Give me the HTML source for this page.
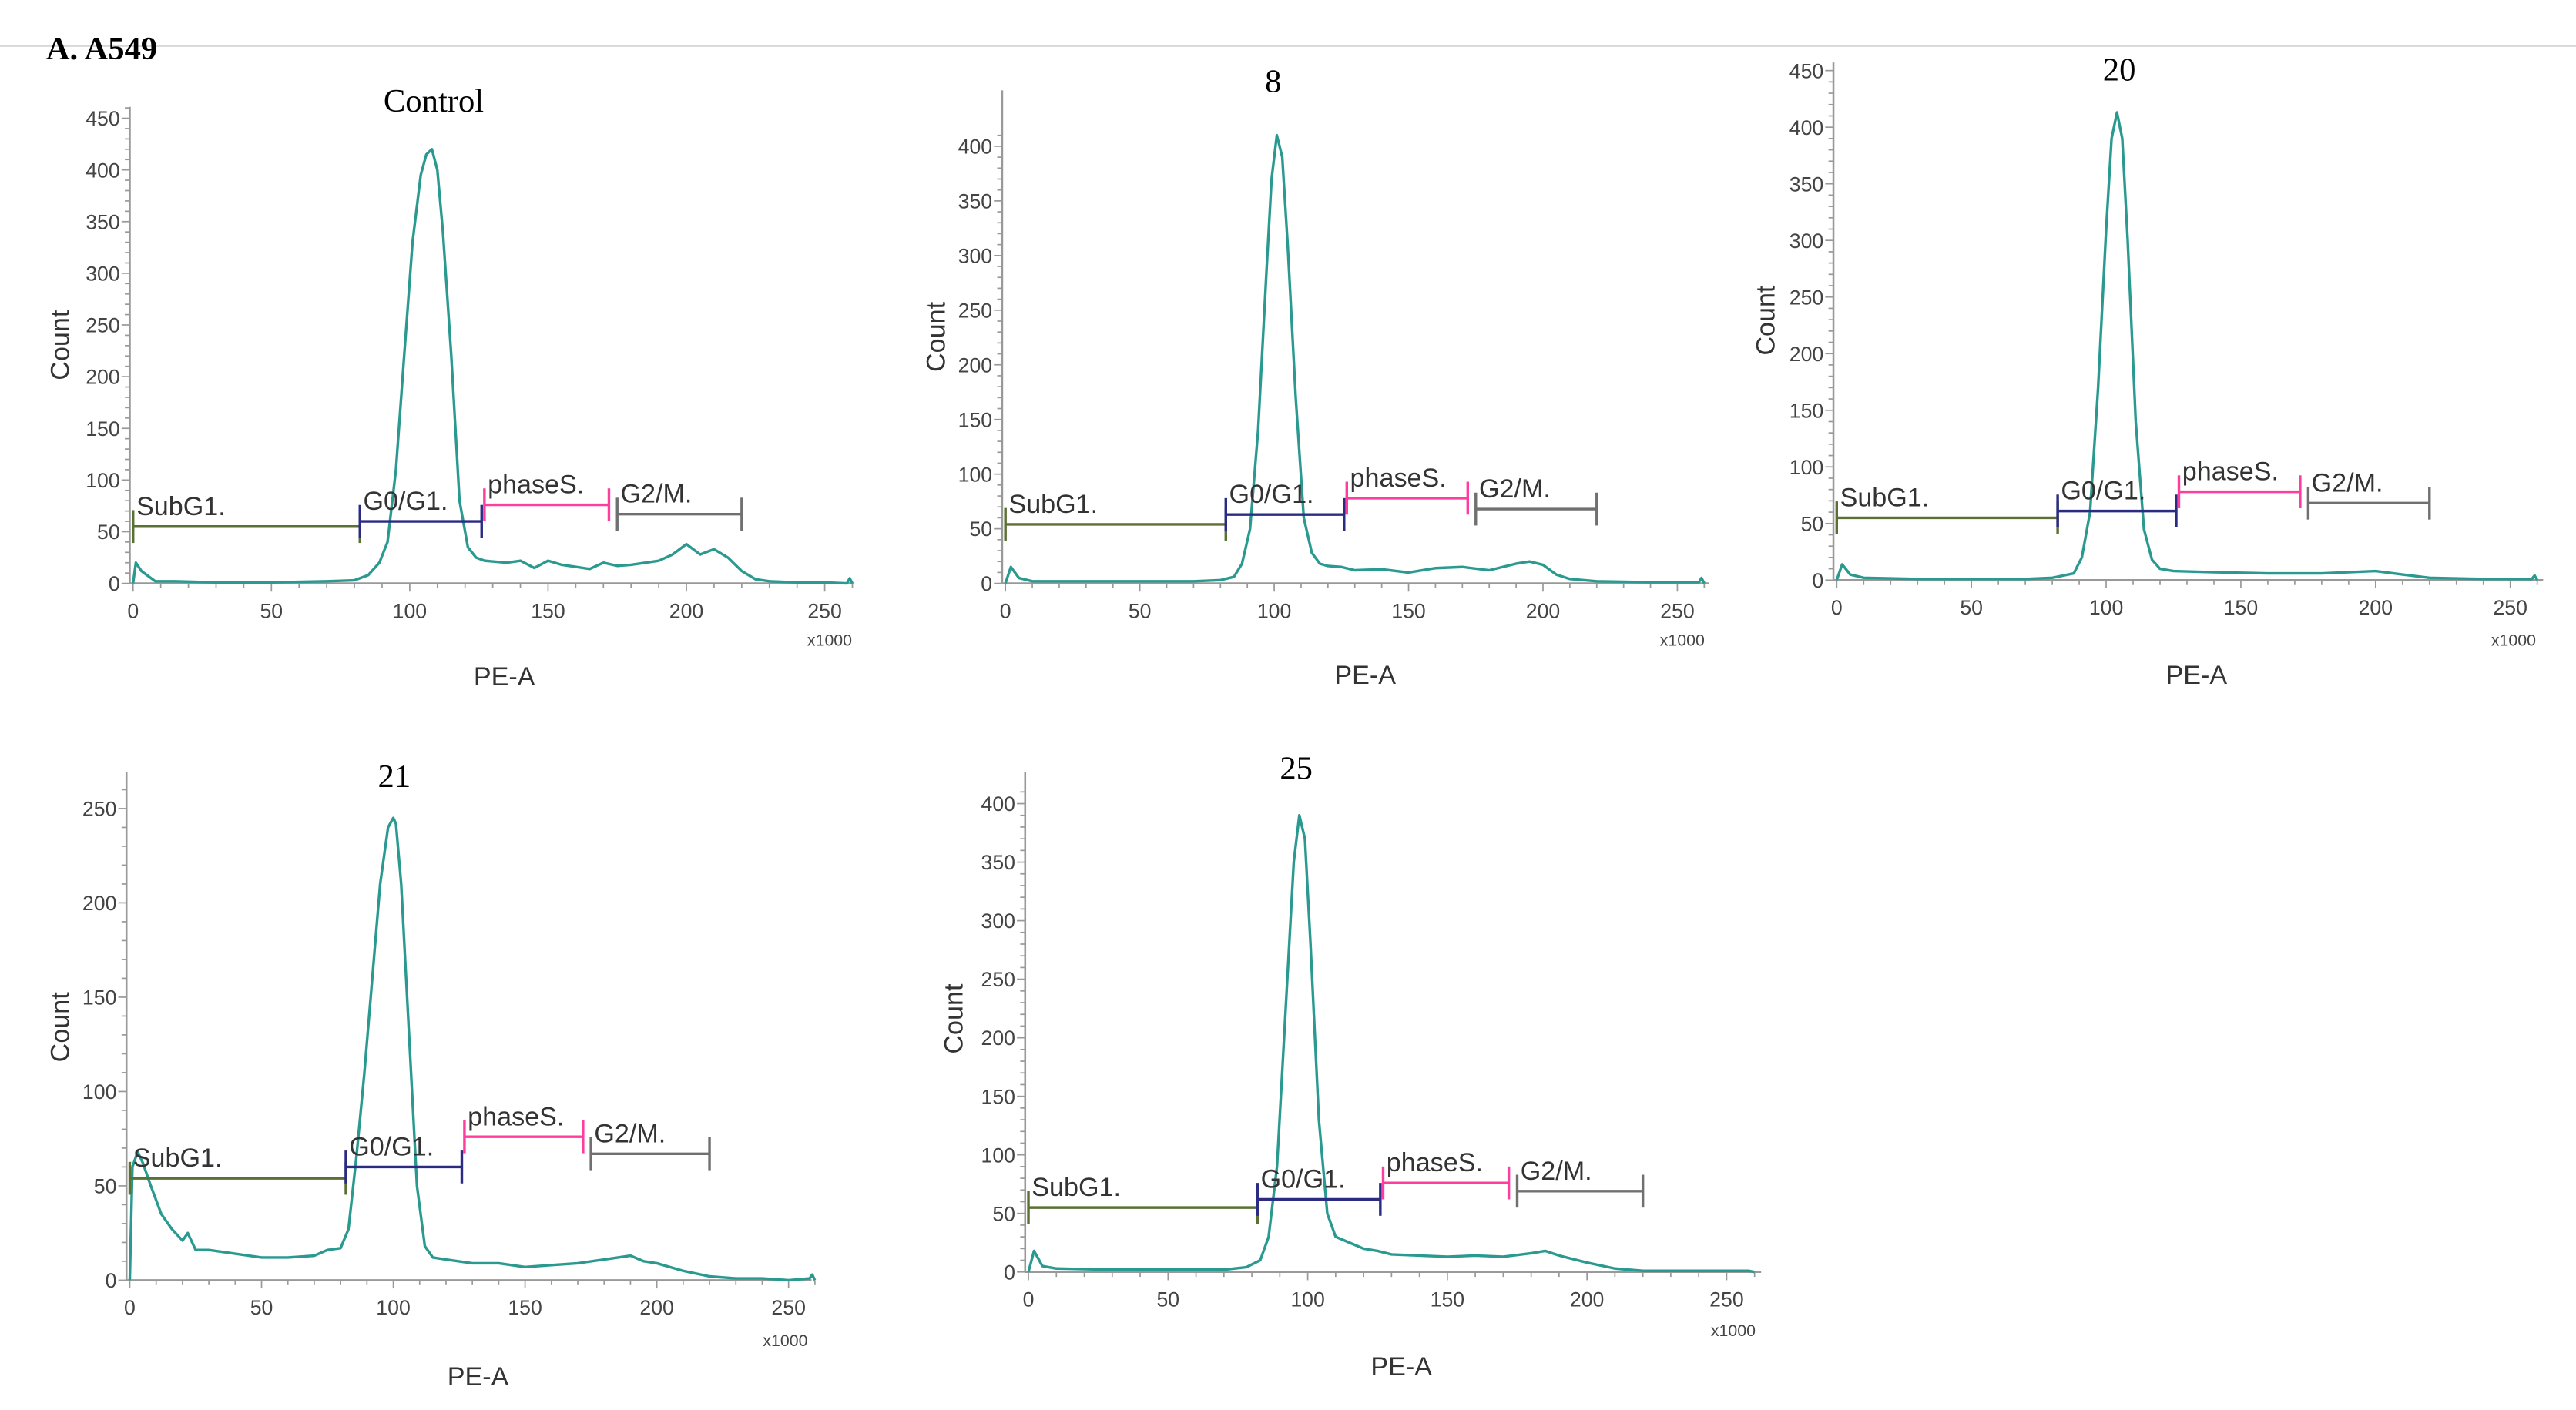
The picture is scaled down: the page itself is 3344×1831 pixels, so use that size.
<!DOCTYPE html>
<html><head><meta charset="utf-8"><style>
html,body{margin:0;padding:0;background:#fff;}
svg{display:block;}
</style></head><body>
<svg id="fig" width="3344" height="1831" viewBox="0 0 1568 858" preserveAspectRatio="none" xmlns="http://www.w3.org/2000/svg">
<line x1="0" y1="28" x2="1568" y2="28" stroke="#d8d8d8" stroke-width="1"/>
<text x="28" y="36" font-family="Liberation Serif, serif" font-weight="bold" font-size="20" fill="#000">A. A549</text>
</svg>
<script>
// ---- data ----
const panelTitles = ["Control","8","20","21","25"];
const xTickLabels = [0,50,100,150,200,250];
const gateNames = ["SubG1.","G0/G1.","phaseS.","G2/M."];
const gateStarts = [0,82,127,175];
const gateEnds = [82,126,172,220];
const yTickMax = [450,400,450,250,400];
const gateLevels0 = [55,60,76,67];
const gateLevels1 = [54,63,78,68];
const gateLevels2 = [55,61,78,68];
const gateLevels3 = [54,60,76,67];
const gateLevels4 = [55,62,76,69];
const xs0 = [0,1,3,8,15,30,50,70,80,85,89,92,95,98,101,104,106,108,110,112,115,118,121,124,127,135,140,145,150,155,160,165,170,175,180,190,195,200,205,210,215,220,225,230,240,250,258,259,260];
const ys0 = [0,20,12,2,2,1,1,2,3,8,20,40,110,220,330,395,415,420,400,340,220,80,35,25,22,20,22,15,22,18,16,14,20,17,18,22,28,38,28,33,25,12,4,2,1,1,0,5,0];
const xs1 = [0,2,5,10,30,50,70,80,85,88,91,94,97,99,101,103,105,108,111,114,117,120,125,130,140,150,160,170,180,190,195,200,205,210,220,240,258,259,260];
const ys1 = [0,15,5,2,2,2,2,3,6,18,50,140,280,370,410,390,310,170,60,28,18,16,15,12,13,10,14,15,12,18,20,17,8,4,2,1,1,5,0];
const xs2 = [0,2,5,10,30,50,70,80,88,91,94,97,100,102,104,106,108,111,114,117,120,125,140,160,180,190,200,210,220,240,258,259,260];
const ys2 = [0,14,5,2,1,1,1,2,6,20,60,170,310,390,413,390,300,140,45,18,10,8,7,6,6,7,8,5,2,1,1,4,0];
const xs3 = [0,1,3,5,8,12,16,20,22,25,30,40,50,60,70,75,80,83,86,89,92,95,98,100,101,103,106,109,112,115,120,130,140,150,160,170,180,190,195,200,210,220,230,240,250,258,259,260];
const ys3 = [0,60,68,62,50,35,27,21,25,16,16,14,12,12,13,16,17,27,65,110,160,210,240,245,242,210,130,50,18,12,11,9,9,7,8,9,11,13,10,9,5,2,1,1,0,1,3,0];
const xs4 = [0,2,5,10,30,50,70,78,83,86,89,92,95,97,99,101,104,107,110,115,120,125,130,140,150,160,170,180,185,190,200,210,220,240,258,260];
const ys4 = [0,18,5,3,2,2,2,4,10,30,90,220,350,390,370,280,130,50,30,25,20,18,15,14,13,14,13,16,18,14,8,3,1,1,1,0];

// ---- layout (pixels, not data) ----
const layouts = [
 {ax:79, x0:81, xPer:1.684, y0:355, yPer:0.629, top:65, right:520, tx:264, ty:68, cx:37, cy:210, px:307, py:417, mx:505, my:393},
 {ax:610, x0:612, xPer:1.636, y0:355, yPer:0.665, top:55, right:1040, tx:775, ty:56, cx:570, cy:205, px:831, py:416, mx:1024, my:393},
 {ax:1116, x0:1118, xPer:1.64, y0:353, yPer:0.689, top:38, right:1548, tx:1290, ty:49, cx:1075, cy:195, px:1337, py:416, mx:1530, my:393},
 {ax:77, x0:79, xPer:1.604, y0:779, yPer:1.148, top:470, right:494, tx:240, ty:479, cx:37, cy:625, px:291, py:843, mx:478, my:819},
 {ax:624, x0:626, xPer:1.70, y0:774, yPer:0.7125, top:470, right:1072, tx:789, ty:474, cx:581, cy:620, px:853, py:837, mx:1055, my:813}
];
const allXs=[xs0,xs1,xs2,xs3,xs4], allYs=[ys0,ys1,ys2,ys3,ys4];
const allGates=[gateLevels0,gateLevels1,gateLevels2,gateLevels3,gateLevels4];
const gateColors=["#5b7134","#2b2b84","#ff3d9e","#707070"];
const NS="http://www.w3.org/2000/svg";
const svg=document.getElementById('fig');
function mk(tag,attrs,parent){const e=document.createElementNS(NS,tag);for(const k in attrs)e.setAttribute(k,attrs[k]);(parent||svg).appendChild(e);return e;}

layouts.forEach((L,i)=>{
  const g=mk('g',{});
  
  
  const sx=v=>L.x0+v*L.xPer, sy=v=>L.y0-v*L.yPer;
  const ya=mk('line',{x1:L.ax,y1:L.top,x2:L.ax,y2:L.y0,stroke:'#999','stroke-width':1.2},g);
  
  
  const xa=mk('line',{x1:L.ax,y1:L.y0,x2:L.right,y2:L.y0,stroke:'#999','stroke-width':1.2},g);
  
  
  for(let v=0;v<=yTickMax[i]+15;v+=10){
    const y=sy(v); if(y<L.top) break;
    const major=v%50===0&&v<=yTickMax[i];
    mk('line',{x1:L.ax-(major?5:3),y1:y,x2:L.ax,y2:y,stroke:'#999','stroke-width':0.8},g);
    if(major){const t=mk('text',{x:L.ax-6,y:y+4.5,'text-anchor':'end','font-family':'Liberation Sans, sans-serif','font-size':12.5,fill:'#444'},g);t.textContent=v;
      
      }
  }
  for(let v=0;v<=260;v+=10){
    const x=sx(v);
    mk('line',{x1:x,y1:L.y0,x2:x,y2:L.y0+(v%50===0?5:3),stroke:'#999','stroke-width':0.8},g);
  }
  xTickLabels.forEach(v=>{const t=mk('text',{x:sx(v),y:L.y0+21,'text-anchor':'middle','font-family':'Liberation Sans, sans-serif','font-size':12.5,fill:'#444'},g);t.textContent=v;
    
    });
  const m=mk('text',{x:L.mx,y:L.my,'text-anchor':'middle','font-family':'Liberation Sans, sans-serif','font-size':10,fill:'#444'},g);m.textContent='x1000';
  
  
  const xt=mk('text',{x:L.px,y:L.py,'text-anchor':'middle','font-family':'Liberation Sans, sans-serif','font-size':16,fill:'#333'},g);xt.textContent='PE-A';
  
  
  const yt=mk('text',{x:L.cx,y:L.cy,'text-anchor':'middle','font-family':'Liberation Sans, sans-serif','font-size':16,fill:'#333',transform:`rotate(-90 ${L.cx} ${L.cy})`,dy:5},g);yt.textContent='Count';
  
  
  const tt=mk('text',{x:L.tx,y:L.ty,'text-anchor':'middle','font-family':'Liberation Serif, serif','font-size':20,fill:'#000'},g);tt.textContent=panelTitles[i];
  
  
  const xsA=allXs[i], ysA=allYs[i];
  const d=xsA.map((x,k)=>(k?'L':'M')+sx(x).toFixed(1)+' '+sy(ysA[k]).toFixed(1)).join(' ');
  const c=mk('path',{d:d,fill:'none',stroke:'#2a9a90','stroke-width':1.6,'stroke-linejoin':'round'},g);
  
  
  gateNames.forEach((n,k)=>{
    const y=sy(allGates[i][k]), x1=sx(gateStarts[k]), x2=sx(gateEnds[k]), col=gateColors[k];
    const gg=mk('g',{stroke:col,'stroke-width':1.6},g);
    
    
    mk('line',{x1:x1,y1:y,x2:x2,y2:y},gg);
    mk('line',{x1:x1,y1:y-10,x2:x1,y2:y+10},gg);
    mk('line',{x1:x2,y1:y-10,x2:x2,y2:y+10},gg);
    const t=mk('text',{x:x1+2,y:y-7,'font-family':'Liberation Sans, sans-serif','font-size':16,fill:'#333',stroke:'none'},gg);t.textContent=n;
    
    
  });
});
</script>
</body></html>
